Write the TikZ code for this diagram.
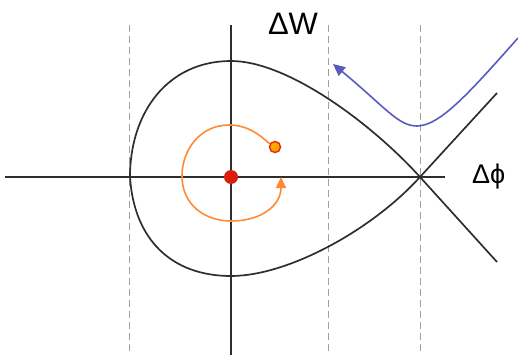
\documentclass[tikz,border=0pt]{standalone}
\usepackage{fontspec}
\setmainfont{Liberation Sans}
\usetikzlibrary{arrows.meta}
\definecolor{axisgray}{HTML}{2E2E2E}
\definecolor{dashgray}{HTML}{A0A0A0}
\definecolor{blueline}{HTML}{5A5ABF}
\definecolor{orangeline}{HTML}{FF8A33}
\definecolor{reddot}{HTML}{D91E0A}
\definecolor{orangedot}{HTML}{FFA800}
\tikzset{
  axisline/.style={draw=axisgray, line width=2pt},
  sepline/.style={draw=axisgray, line width=1.7pt},
  guide/.style={draw=dashgray, line width=1pt, dash pattern=on 7pt off 4pt},
  bluearrow/.style={draw=blueline, line width=1.6pt, -{Triangle[length=12pt,width=11pt]}},
  orangearrow/.style={draw=orangeline, line width=1.6pt, -{Triangle[length=11pt,width=10pt]}},
  bigdot/.style={circle, fill=reddot, inner sep=0pt, minimum size=14pt},
  smalldot/.style={circle, fill=orangedot, draw=reddot!80!orange, line width=1.5pt, inner sep=0pt, minimum size=11pt},
  lbl/.style={inner sep=0pt, text=black}
}
\begin{document}
\begin{tikzpicture}[x=1pt,y=-1pt]
\useasboundingbox (0,0) rectangle (518,355);
% dashed guides
\coordinate (g1t) at (129,25); \coordinate (g1b) at (129,352);
\coordinate (g2t) at (328,25); \coordinate (g2b) at (328,352);
\coordinate (g3t) at (420,25); \coordinate (g3b) at (420,352);
\draw[guide] (g1t) -- (g1b);
\draw[guide] (g2t) -- (g2b);
\draw[guide] (g3t) -- (g3b);
% axes
\coordinate (xl) at (5,177); \coordinate (xr) at (445,177);
\coordinate (yt) at (231,25); \coordinate (yb) at (231,355);
\draw[axisline] (xl) -- (xr);
\draw[axisline] (yt) -- (yb);
% separatrix
\coordinate (X) at (420,177);
\coordinate (L) at (130,177);
\coordinate (ur) at (497,93);
\coordinate (lr) at (497,262);
\draw[sepline] (L) .. controls (130,112) and (168,61) .. (231,61)
  .. controls (288,61) and (372,124) .. (X) -- (lr);
\draw[sepline] (L) .. controls (134,240) and (172,276) .. (231,276)
  .. controls (288,276) and (372,230) .. (X) -- (ur);
% blue arrow
\coordinate (bs) at (518,38);
\coordinate (be) at (333,64);
\draw[bluearrow] (bs) .. controls (470,92) and (440,126) .. (417,126)
  .. controls (398,126) and (385,107) .. (be);
% dots
\node[bigdot] (c) at (231,177) {};
\node[smalldot] (o) at (275,147) {};
% orange spiral
\coordinate (oe) at (281,177);
\draw[orangearrow] (o.150) .. controls (258,133) and (246,125) .. (229,125)
  .. controls (200,125) and (182,150) .. (182,176)
  .. controls (182,205) and (205,221) .. (231,221)
  .. controls (262,221) and (281,205) .. (oe);
% labels
\node[lbl, font=\fontsize{31}{31}\selectfont] (dW) at (293,24) {ΔW};
\node[lbl, font=\fontsize{27}{27}\selectfont, anchor=west] (dphi) at (472,177) {Δϕ};
\end{tikzpicture}
\end{document}
